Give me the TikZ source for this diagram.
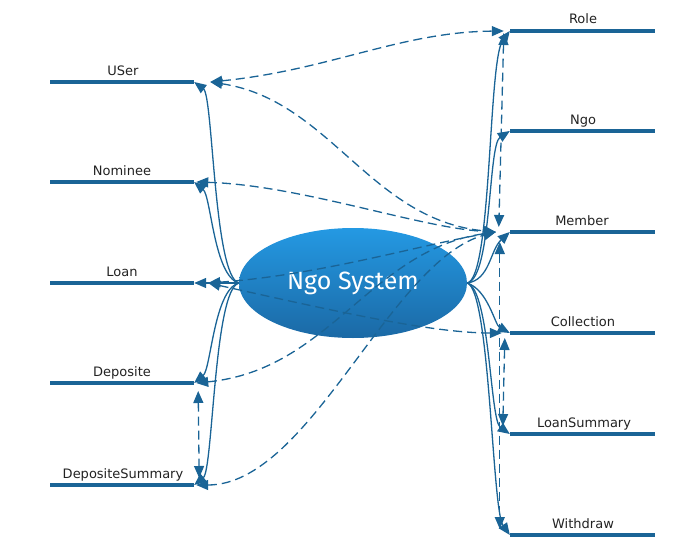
\documentclass[tikz,border=0pt]{standalone}
\usepackage{fontspec}
\setmainfont{DejaVu Sans}
\newfontfamily\titlefont{Fira Sans}
\usetikzlibrary{arrows.meta,shapes.geometric,calc}
\definecolor{lineblue}{HTML}{1A6496}
\definecolor{ellTop}{HTML}{2499E3}
\definecolor{ellBot}{HTML}{1B69A5}
\definecolor{txt}{HTML}{222222}
\tikzset{
  bar/.style={rectangle, fill=lineblue, inner sep=0pt, minimum height=4pt, minimum width=144pt},
  lbl/.style={anchor=base, font=\fontsize{13}{15}\selectfont, text=txt, inner sep=0pt},
  conn/.style={draw=lineblue, line width=1.3pt},
  dsh/.style={conn, dash pattern=on 9pt off 5pt},
  >={Triangle[length=12pt,width=10pt]}
}
\begin{document}
\begin{tikzpicture}[x=1pt,y=-1pt]
\useasboundingbox (0,0) rectangle (680,551);
% left bars
\node[bar] (user) at (122,82) {};
\node[bar] (nominee) at (122,182) {};
\node[bar] (loan) at (122,283) {};
\node[bar] (deposite) at (122,383) {};
\node[bar] (depsum) at (122,485) {};
% right bars
\node[bar, minimum width=145pt] (role) at (582.5,31) {};
\node[bar, minimum width=145pt] (ngo) at (582.5,131) {};
\node[bar, minimum width=145pt] (member) at (582.5,232) {};
\node[bar, minimum width=145pt] (collection) at (582.5,333) {};
\node[bar, minimum width=145pt] (loansum) at (582.5,434) {};
\node[bar, minimum width=145pt] (withdraw) at (582.5,535) {};
% labels
\node[lbl] (userL) at (123,75) {USer};
\node[lbl] (nomineeL) at (122,175) {Nominee};
\node[lbl] (loanL) at (122,276) {Loan};
\node[lbl] (depositeL) at (122,376) {Deposite};
\node[lbl] (depsumL) at (123,478) {DepositeSummary};
\node[lbl] (roleL) at (583,24) {Role};
\node[lbl] (ngoL) at (583,124) {Ngo};
\node[lbl] (memberL) at (582,225) {Member};
\node[lbl] (collectionL) at (583,326) {Collection};
\node[lbl] (loansumL) at (584,427) {LoanSummary};
\node[lbl] (withdrawL) at (583,528) {Withdraw};
% ellipse
\node[ellipse, minimum width=228pt, minimum height=110pt, inner sep=0pt,
      top color=ellTop, bottom color=ellBot, draw=none,
      font=\titlefont\fontsize{25}{29}\selectfont, text=white] (sys) at (353,283) {Ngo System};
% solid left connectors
\draw[conn,->] (sys.west) .. controls (214,276) and (213,96) .. (user.east);
\draw[conn,->] (sys.west) .. controls (214,276) and (211,196) .. (nominee.east);
\draw[conn,->] (sys.west) -- (loan.east);
\draw[conn,->] (sys.west) .. controls (214,290) and (211,369) .. (deposite.east);
\draw[conn,->] (sys.west) .. controls (214,290) and (213,470) .. (depsum.east);
% solid right connectors
\draw[conn,->] (sys.east) .. controls (492,278) and (488,60) .. (role.west);
\draw[conn,->] (sys.east) .. controls (492,278) and (488,145) .. (ngo.west);
\draw[conn,->] (sys.east) .. controls (490,280) and (490,250) .. (member.west);
\draw[conn,->] (sys.east) .. controls (488,290) and (495,325) .. (collection.west);
\draw[conn,->] (sys.east) .. controls (490,290) and (490,420) .. (loansum.west);
\draw[conn,->] (sys.east) .. controls (490,290) and (492,510) .. (withdraw.west);
% dashed connectors across
\draw[dsh,<->] ($(user.east)+(16,0)$) .. controls (330,70) and (400,32) .. ($(role.west)+(-6,0)$);
\draw[dsh,<->] ($(user.east)+(16,0)$) .. controls (330,100) and (370,220) .. ($(member.west)+(-14,0)$);
\draw[dsh,<->] ($(nominee.east)+(2,0)$) .. controls (300,185) and (420,228) .. ($(member.west)+(-14,0)$);
\draw[dsh,<->] ($(loan.east)+(14,0)$) .. controls (320,275) and (420,245) .. ($(member.west)+(-14,0)$);
\draw[dsh,<->] ($(loan.east)+(14,0)$) .. controls (330,310) and (430,333) .. ($(collection.west)+(-8,0)$);
\draw[dsh,<->] ($(deposite.east)+(2,0)$) .. controls (330,370) and (370,250) .. ($(member.west)+(-14,0)$);
\draw[dsh,<->] ($(depsum.east)+(2,0)$) .. controls (310,485) and (390,260) .. ($(member.west)+(-14,0)$);
% dashed verticals
\draw[dsh,<->] ($(deposite.east)+(4,8)$) -- ($(depsum.east)+(5,-7)$);
\draw[dsh,<->] ($(role.west)+(-6,2)$) -- ($(member.west)+(-11,-5)$);
\draw[dsh,<->] ($(member.west)+(-10,10)$) -- ($(withdraw.west)+(-10,-6)$);
\draw[dsh,<->] ($(collection.west)+(-5,5)$) -- ($(loansum.west)+(-7,-8)$);
\end{tikzpicture}
\end{document}
